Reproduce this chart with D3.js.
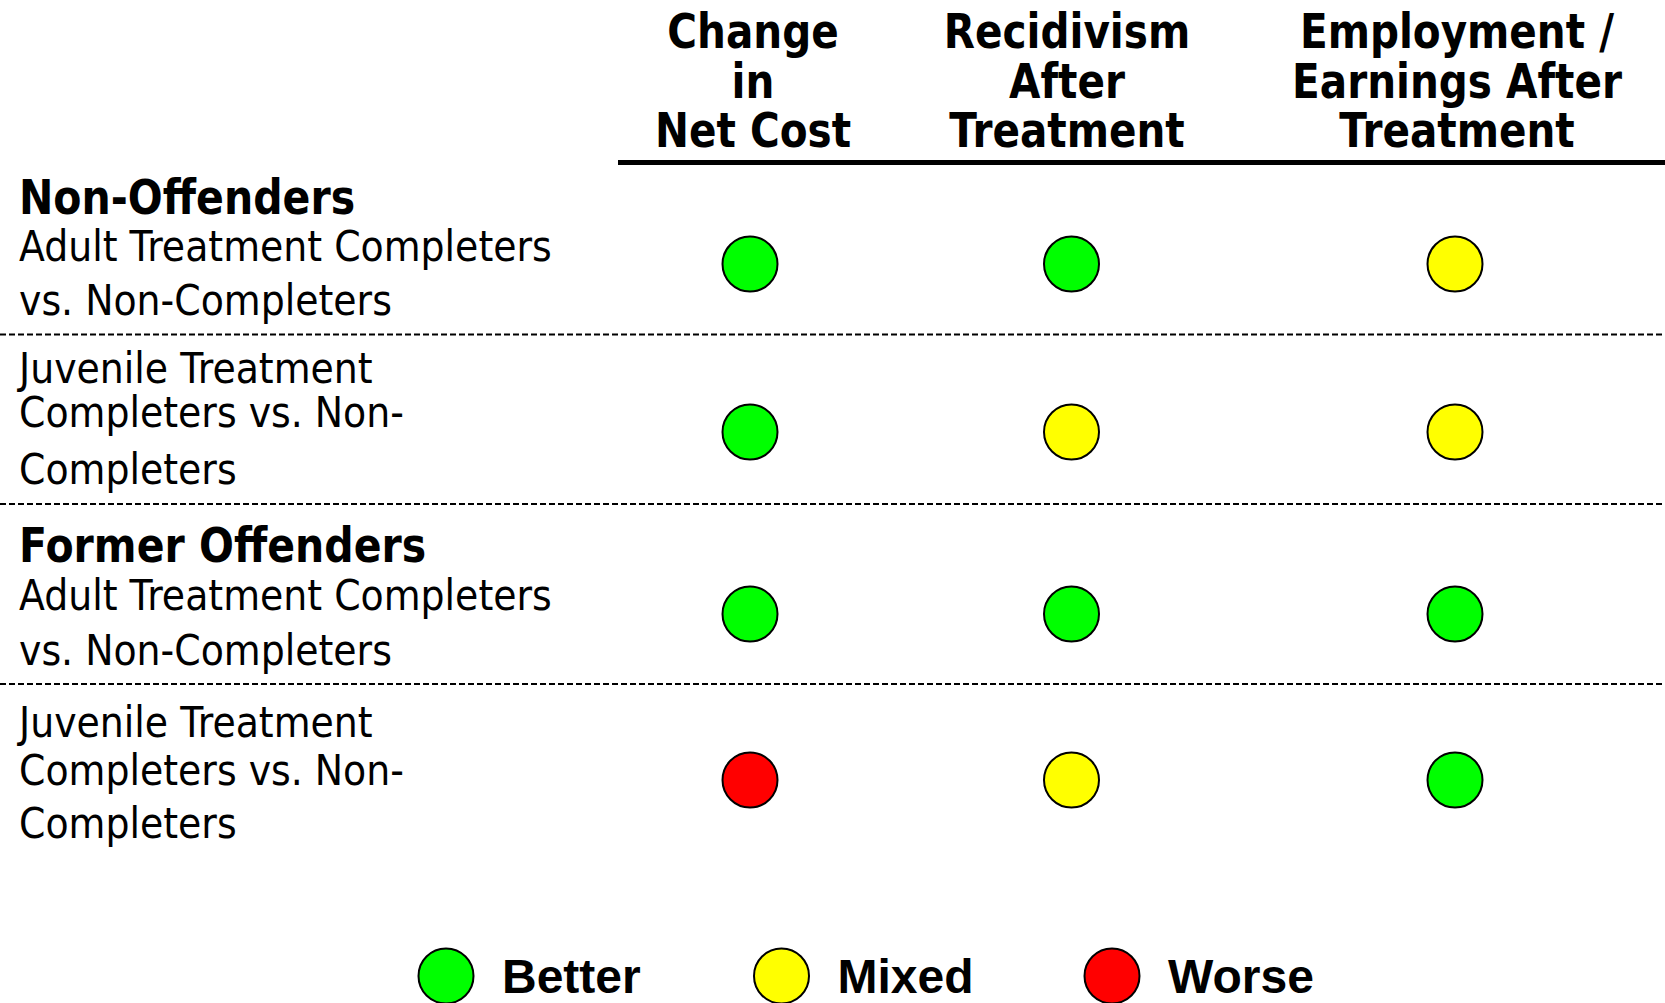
<!DOCTYPE html>
<html>
<head>
<meta charset="utf-8">
<script src="https://cdn.jsdelivr.net/npm/d3@7"></script>
<style>
  html, body { margin: 0; padding: 0; background: #fff; }
  svg { display: block; }
</style>
</head>
<body>
<div id="chart"></div>
<script>
// ---- data ----
const columns = ["Change in Net Cost", "Recidivism After Treatment", "Employment / Earnings After Treatment"];
const columnLines = [
  ["Change", "in", "Net Cost"],
  ["Recidivism", "After", "Treatment"],
  ["Employment /", "Earnings After", "Treatment"]
];
const groups = ["Non-Offenders", "Former Offenders"];
const rows = ["NO-Adult", "NO-Juvenile", "FO-Adult", "FO-Juvenile"];
const rowGroup = ["Non-Offenders", null, "Former Offenders", null];
const rowLines = [
  ["Adult Treatment Completers", "vs. Non-Completers"],
  ["Juvenile Treatment", "Completers vs. Non-", "Completers"],
  ["Adult Treatment Completers", "vs. Non-Completers"],
  ["Juvenile Treatment", "Completers vs. Non-", "Completers"]
];
const ratings = [
  ["Better", "Better", "Mixed"],
  ["Better", "Mixed", "Mixed"],
  ["Better", "Better", "Better"],
  ["Worse", "Mixed", "Better"]
];
const legendItems = ["Better", "Mixed", "Worse"];
const legendColors = ["#00ff00", "#ffff00", "#ff0000"];

// ---- layout ----
const W = 1665, H = 1003;
const svg = d3.select("#chart").append("svg").attr("width", W).attr("height", H);

const x = d3.scaleOrdinal().domain(columns).range([750, 1071.5, 1455]);
const headerX = d3.scaleOrdinal().domain(columns).range([753, 1067, 1457]);
const y = d3.scaleOrdinal().domain(rows).range([264, 432, 614, 780]);
const color = d3.scaleOrdinal().domain(legendItems).range(legendColors);

const boldFont = "'DejaVu Sans', Verdana, sans-serif";

// column headers
const headerBase = [48, 98, 147];
columns.forEach((c, i) => {
  columnLines[i].forEach((line, j) => {
    svg.append("g")
      .attr("transform", `translate(${headerX(c)},${headerBase[j]}) scale(0.845,1)`)
      .append("text")
      .attr("text-anchor", "middle")
      .attr("font-family", boldFont)
      .attr("font-weight", "bold")
      .attr("font-size", 48)
      .attr("fill", "#000")
      .text(line);
  });
});

// header rule
svg.append("line")
  .attr("x1", 618).attr("x2", W)
  .attr("y1", 162.5).attr("y2", 162.5)
  .attr("stroke", "#000").attr("stroke-width", 5);

// row labels
const groupBase = [214, null, 562, null];
const labelBase = [[261, 315], [383, 427, 484], [610, 665], [737, 785, 838]];
rows.forEach((r, i) => {
  if (rowGroup[i]) {
    svg.append("g")
      .attr("transform", `translate(19,${groupBase[i]}) scale(0.865,1)`)
      .append("text")
      .attr("font-family", boldFont)
      .attr("font-weight", "bold")
      .attr("font-size", 47.5)
      .attr("fill", "#000")
      .text(rowGroup[i]);
  }
  rowLines[i].forEach((line, j) => {
    svg.append("g")
      .attr("transform", `translate(19,${labelBase[i][j]}) scale(0.88,1)`)
      .append("text")
      .attr("font-family", "'DejaVu Sans', Verdana, sans-serif")
      .attr("font-size", 43)
      .attr("fill", "#000")
      .text(line);
  });
});

// dashed separators
const sepY = [334.5, 504, 684];
svg.selectAll("line.sep").data(sepY).enter().append("line")
  .attr("class", "sep")
  .attr("x1", 0).attr("x2", W)
  .attr("y1", d => d).attr("y2", d => d)
  .attr("stroke", "#000").attr("stroke-width", 2)
  .attr("stroke-dasharray", "6,3");

// rating circles
const cells = [];
rows.forEach((r, i) => columns.forEach((c, j) => cells.push({ row: r, col: c, val: ratings[i][j] })));
svg.selectAll("circle.cell").data(cells).enter().append("circle")
  .attr("class", "cell")
  .attr("cx", d => x(d.col))
  .attr("cy", d => y(d.row))
  .attr("r", 27.5)
  .attr("fill", d => color(d.val))
  .attr("stroke", "#000").attr("stroke-width", 2);

// legend
const lx = d3.scaleOrdinal().domain(legendItems).range([446, 781.5, 1112]);
const lg = svg.selectAll("g.leg").data(legendItems).enter().append("g")
  .attr("class", "leg")
  .attr("transform", d => `translate(${lx(d)},976)`);
lg.append("circle")
  .attr("r", 27.5)
  .attr("fill", d => color(d))
  .attr("stroke", "#000").attr("stroke-width", 2);
lg.append("text")
  .attr("x", 56).attr("y", 17)
  .attr("font-family", "'Liberation Sans', Arial, sans-serif")
  .attr("font-weight", "bold")
  .attr("font-size", 48)
  .attr("fill", "#000")
  .text(d => d);
</script>
</body>
</html>
